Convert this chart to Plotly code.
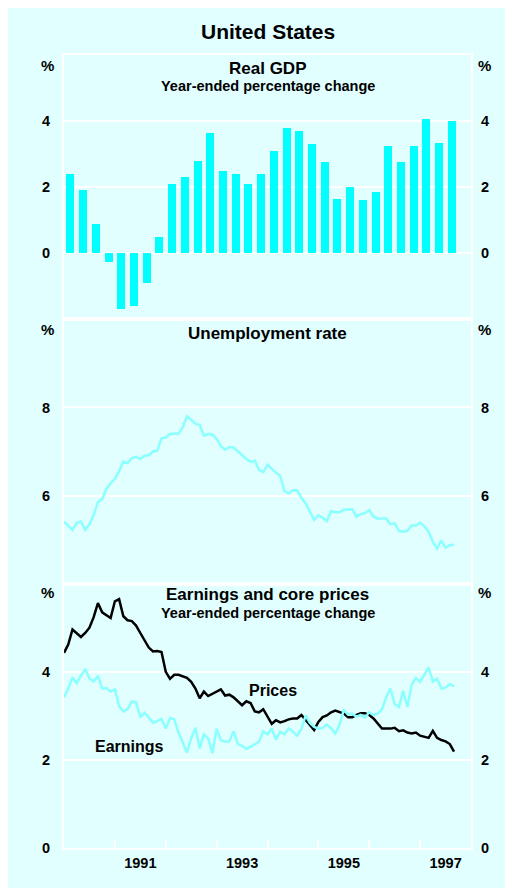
import plotly.graph_objects as go
from plotly.subplots import make_subplots

# ---------------- data ----------------
start_year = 1990
gdp_growth = [2.4, 1.9, 0.9, -0.25, -1.7, -1.6, -0.9, 0.5, 2.1, 2.3, 2.8, 3.65,
              2.5, 2.4, 2.1, 2.4, 3.1, 3.8, 3.7, 3.3, 2.75, 1.65, 2.0, 1.6,
              1.85, 3.25, 2.75, 3.25, 4.05, 3.35, 4.0]

unemployment = [
    5.41, 5.32, 5.22, 5.38, 5.41, 5.22, 5.35, 5.56, 5.85, 5.92, 6.15, 6.28,   # 1990
    6.38, 6.55, 6.77, 6.74, 6.85, 6.88, 6.83, 6.91, 6.91, 7.00, 7.02, 7.30,   # 1991
    7.32, 7.40, 7.40, 7.40, 7.55, 7.80, 7.72, 7.63, 7.60, 7.36, 7.40, 7.38,   # 1992
    7.29, 7.12, 7.04, 7.10, 7.09, 7.00, 6.92, 6.83, 6.77, 6.79, 6.58, 6.53,   # 1993
    6.70, 6.60, 6.52, 6.45, 6.10, 6.05, 6.12, 6.12, 5.95, 5.82, 5.65, 5.45,   # 1994
    5.55, 5.50, 5.42, 5.65, 5.62, 5.62, 5.68, 5.69, 5.69, 5.52, 5.58, 5.60,   # 1995
    5.67, 5.52, 5.48, 5.48, 5.48, 5.35, 5.37, 5.20, 5.18, 5.20, 5.32, 5.32,   # 1996
    5.38, 5.30, 5.18, 4.95, 4.80, 4.98, 4.82, 4.87, 4.89]                     # 1997

core_prices = [
    4.43, 4.62, 4.96, 4.88, 4.79, 4.88, 5.00, 5.24, 5.56, 5.35, 5.28, 5.22,   # 1990
    5.60, 5.65, 5.26, 5.17, 5.15, 5.05, 4.88, 4.70, 4.55, 4.46, 4.47, 4.45,   # 1991
    4.00, 3.84, 3.93, 3.93, 3.89, 3.86, 3.77, 3.62, 3.40, 3.55, 3.45, 3.50,   # 1992
    3.55, 3.60, 3.46, 3.48, 3.42, 3.33, 3.24, 3.33, 3.29, 3.10, 3.08, 3.15,   # 1993
    3.00, 2.82, 2.90, 2.85, 2.88, 2.92, 2.94, 2.94, 3.02, 2.90, 2.78, 2.68,   # 1994
    2.86, 2.97, 3.01, 3.08, 3.12, 3.08, 3.05, 2.97, 2.97, 3.02, 3.06, 3.06,   # 1995
    3.02, 2.94, 2.82, 2.71, 2.71, 2.71, 2.73, 2.65, 2.67, 2.62, 2.60, 2.62,   # 1996
    2.55, 2.52, 2.50, 2.66, 2.50, 2.45, 2.42, 2.36, 2.19]                     # 1997

earnings = [
    3.42, 3.62, 3.87, 3.74, 3.91, 4.06, 3.85, 3.78, 3.91, 3.62, 3.63, 3.55,   # 1990
    3.60, 3.22, 3.10, 3.15, 3.33, 3.31, 2.97, 3.07, 2.96, 2.84, 2.88, 2.93,   # 1991
    2.71, 2.95, 2.92, 2.62, 2.40, 2.17, 2.49, 2.73, 2.26, 2.58, 2.49, 2.15,   # 1992
    2.71, 2.45, 2.41, 2.42, 2.65, 2.36, 2.32, 2.25, 2.30, 2.35, 2.42, 2.64,   # 1993
    2.58, 2.71, 2.46, 2.64, 2.58, 2.71, 2.64, 2.55, 2.70, 3.01, 2.84, 2.75,   # 1994
    2.71, 2.72, 2.80, 2.72, 2.60, 2.80, 3.14, 3.03, 3.05, 2.98, 3.02, 2.96,   # 1995
    3.08, 3.02, 3.05, 3.15, 3.42, 3.62, 3.27, 3.20, 3.57, 3.20, 3.70, 3.86,   # 1996
    3.77, 3.92, 4.10, 3.78, 3.84, 3.62, 3.64, 3.72, 3.67]                     # 1997

year_labels = ["1991", "1993", "1995", "1997"]
gdp_ticks = [0, 2, 4]
unemp_ticks = [6, 8]
earn_ticks = [0, 2, 4]

# x positions: quarterly bars at mid-quarter, monthly lines at month start
quarter_x = [start_year + (i + 0.5) / 4 for i in range(len(gdp_growth))]
month_x = [start_year + i / 12 for i in range(len(unemployment))]

# ---------------- style ----------------
W, H = 513, 888
OFF = 8                       # page body margin
PL, PR, PT, PB = 64, 471, 55, 848   # plot area edges in page pixels
ML, MT = PL - OFF, PT - OFF
PW, PH = PR - PL, PB - PT
MR, MB = W - ML - PW, H - MT - PH
BG = "#E1FFFF"
BAR = "#00FFFF"
LIGHT = "#8AFFFF"
FONT = "Liberation Sans, Arial, sans-serif"


def fx(p):
    return (p - PL) / PW


def fy(p):
    return (PB - p) / PH


fig = make_subplots(rows=3, cols=1, shared_xaxes=True, vertical_spacing=0,
                    specs=[[{"secondary_y": True}]] * 3)

fig.add_trace(go.Bar(x=quarter_x, y=gdp_growth, width=0.157,
                     marker=dict(color=BAR, line=dict(width=0))),
              row=1, col=1, secondary_y=False)
fig.add_trace(go.Scatter(x=month_x, y=unemployment, mode="lines",
                         line=dict(color=LIGHT, width=2.5)),
              row=2, col=1, secondary_y=False)
fig.add_trace(go.Scatter(x=month_x, y=core_prices, mode="lines",
                         line=dict(color="black", width=2.5)),
              row=3, col=1, secondary_y=False)
fig.add_trace(go.Scatter(x=month_x, y=earnings, mode="lines",
                         line=dict(color=LIGHT, width=2.5)),
              row=3, col=1, secondary_y=False)

# invisible copies so that the right-hand (mirror) axes are drawn
for r, series in ((1, gdp_growth), (2, unemployment), (3, earnings)):
    xs = quarter_x if r == 1 else month_x
    fig.add_trace(go.Scatter(x=xs, y=series, mode="lines", opacity=0,
                             line=dict(width=0), hoverinfo="skip"),
                  row=r, col=1, secondary_y=True)

tickfont = dict(family=FONT, size=14.5, color="black", weight="bold")

for r in (1, 2, 3):
    fig.update_xaxes(row=r, col=1, range=[1990, 1998], domain=[0, 1],
                     showgrid=False, zeroline=False, showline=True, mirror=True,
                     linecolor="white", linewidth=2, ticks="",
                     showticklabels=False, automargin=False)

fig.update_xaxes(row=3, col=1, showticklabels=True, tickmode="array",
                 tickvals=[int(y) + 0.5 for y in year_labels],
                 ticktext=year_labels, tickfont=tickfont,
                 ticklabelstandoff=1,
                 minor=dict(tickmode="array", tickvals=list(range(1991, 1998)),
                            ticks="inside", ticklen=8, tickwidth=1.5,
                            tickcolor="white", showgrid=False))

ranges = {1: ([-2, 6], gdp_ticks), 2: ([4, 10], unemp_ticks), 3: ([0, 6], earn_ticks)}
for r, (rng, tv) in ranges.items():
    fig.update_yaxes(row=r, col=1, secondary_y=False, range=rng, tickvals=tv,
                     showgrid=True, gridcolor="white", gridwidth=1.5,
                     zeroline=False, showline=True, mirror=True,
                     linecolor="white", linewidth=2, ticks="",
                     tickfont=tickfont, ticklabelstandoff=9, automargin=False)
    fig.update_yaxes(row=r, col=1, secondary_y=True, range=rng, tickvals=tv,
                     showgrid=False, zeroline=False, showline=False, ticks="",
                     tickfont=tickfont, ticklabelstandoff=9, automargin=False)


def txt(text, x, y, size, xref="paper", yref="paper", xanchor="center"):
    fig.add_annotation(text=text, x=x, y=y, xref=xref, yref=yref,
                       xanchor=xanchor, yanchor="middle", showarrow=False,
                       font=dict(family=FONT, size=size, color="black", weight="bold"))


txt("United States", 0.5, fy(31), 21)
txt("Real GDP", 0.5, fy(68.5), 17)
txt("Year-ended percentage change", 0.5, fy(86), 14.5)
txt("Unemployment rate", 0.5, fy(333), 17)
txt("Earnings and core prices", 0.5, fy(594.5), 17)
txt("Year-ended percentage change", 0.5, fy(613), 14.5)
for yy in (66, 329, 592.5):
    txt("%", fx(47.5), fy(yy), 15)
    txt("%", fx(484.5), fy(yy), 15)

txt("Prices", 1994.11, 3.57, 16, xref="x3", yref="y5")
txt("Earnings", 1991.29, 2.31, 16, xref="x3", yref="y5")

fig.update_layout(width=W, height=H, autosize=False,
                  margin=dict(l=ML, r=MR, t=MT, b=MB, pad=0, autoexpand=False),
                  paper_bgcolor=BG, plot_bgcolor=BG,
                  showlegend=False, bargap=0,
                  font=dict(family=FONT, color="black"))

fig.write_html("out.html")
